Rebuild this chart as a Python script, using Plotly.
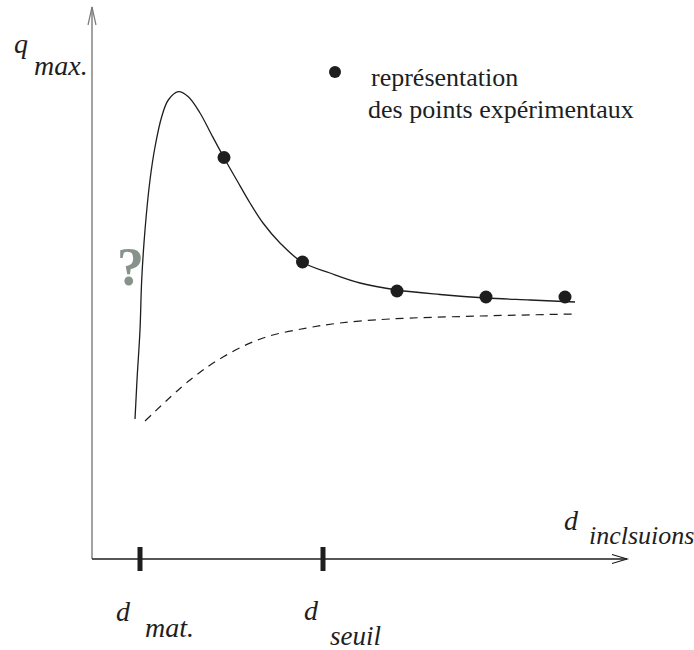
import plotly.graph_objects as go

# ---- data (abstract units: d = inclusion size, q = q_max) ----
curve_d = [43, 45, 48, 49.7, 53, 58, 63, 69.7, 76.3, 86.3, 96.3, 108, 119.7, 132,
           144.7, 158, 171, 188, 210.3, 238, 268, 305, 348, 394, 438, 483]
curve_q = [140, 179, 229, 279, 329, 379, 412, 442.3, 459, 467.3, 462.3, 446, 424, 401.3,
           379, 356, 336, 316, 296.7, 286, 276, 269, 264.5, 261, 259, 257]

points_d = [132, 210.5, 305, 394, 473]
points_q = [401.5, 297, 268, 262, 262]

dashed_d = [53, 98, 131, 171, 215, 248, 298, 388, 483]
dashed_q = [138, 179, 202, 221, 231, 236, 240, 243, 245]

tick_d = [48, 231]
tick_labels = ["mat.", "seuil"]

legend_lines = ["représentation", "des points expérimentaux"]

INK = "#1e1e1e"
SERIF = "Liberation Serif, Times New Roman, serif"

fig = go.Figure()

# solid fitted curve
fig.add_trace(go.Scatter(x=curve_d, y=curve_q, mode="lines", line_shape="spline",
                         line=dict(color=INK, width=1.3), hoverinfo="skip"))
# dashed curve
fig.add_trace(go.Scatter(x=dashed_d, y=dashed_q, mode="lines", line_shape="spline",
                         line=dict(color=INK, width=1.2, dash="8px,6px"), hoverinfo="skip"))
# experimental points
fig.add_trace(go.Scatter(x=points_d, y=points_q, mode="markers",
                         marker=dict(color=INK, size=13), hoverinfo="skip"))
# legend key dot
fig.add_trace(go.Scatter(x=[243], y=[487], mode="markers",
                         marker=dict(color=INK, size=12), hoverinfo="skip"))

shapes = []
# y axis (gray) with open arrowhead
shapes.append(dict(type="line", x0=0, y0=0, x1=0, y1=552, line=dict(color="#7a7a7a", width=1.4)))
shapes.append(dict(type="path", path="M -4 534 L 0 552 L 4 534", line=dict(color="#7a7a7a", width=1.2)))
# x axis with open arrowhead
shapes.append(dict(type="line", x0=0, y0=0, x1=535, y1=0, line=dict(color=INK, width=1.4)))
shapes.append(dict(type="path", path="M 520 4.5 L 535 0 L 520 -4.5", line=dict(color=INK, width=1.2)))
# thick ticks
for td in tick_d:
    shapes.append(dict(type="line", x0=td, y0=12, x1=td, y1=-12, line=dict(color=INK, width=5)))

ann = []
def txt(x, y, s, size=27, italic=True, anchor="center", color=INK, bold=False):
    t = s
    if bold:
        t = "<b>" + t + "</b>"
    if italic:
        t = "<i>" + t + "</i>"
    ann.append(dict(x=x, y=y, xref="x", yref="y", text=t, showarrow=False,
                    xanchor=anchor, yanchor="middle",
                    font=dict(family=SERIF, size=size, color=color)))

# axis labels
txt(-71, 516, "q", size=28)
txt(-31, 494, "max.", size=28)
txt(479, 39, "d", size=28)
txt(495, 24, "inclsuions", size=26, anchor="left")
# tick labels
txt(31, -52, "d", size=28)
txt(51, -68, tick_labels[0], size=28, anchor="left")
txt(219, -51, "d", size=28)
txt(236, -77, tick_labels[1], size=27, anchor="left")
# question mark
txt(38, 292, "?", size=54, italic=False, bold=True, color="#87928a")
# legend text
txt(277, 482, legend_lines[0], size=26, italic=False, anchor="left")
txt(274, 450, legend_lines[1], size=26, italic=False, anchor="left")

fig.update_layout(
    width=694, height=650,
    margin=dict(l=0, r=0, t=0, b=0),
    paper_bgcolor="white", plot_bgcolor="white",
    showlegend=False,
    xaxis=dict(range=[-92, 602], visible=False, fixedrange=True),
    yaxis=dict(range=[-91, 559], visible=False, fixedrange=True),
    shapes=shapes, annotations=ann,
)

fig.write_html("out.html", config={"displayModeBar": False},
               post_script="document.body.style.margin='0';document.body.style.overflow='hidden';")
